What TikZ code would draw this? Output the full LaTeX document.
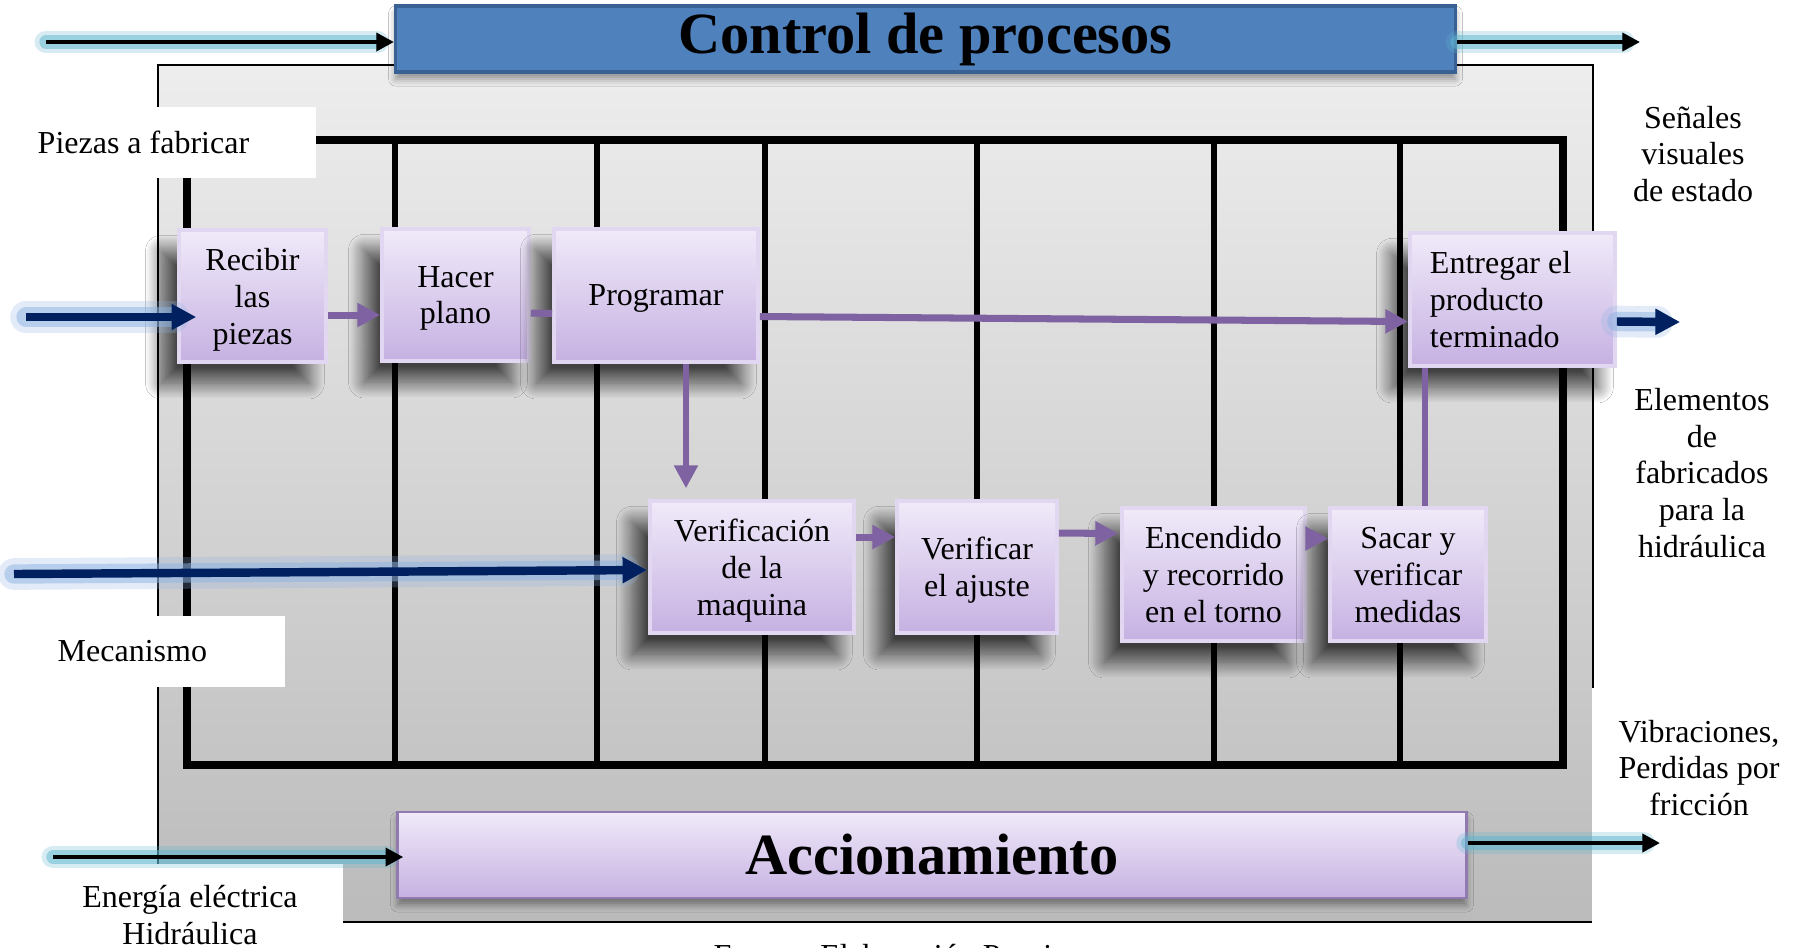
\documentclass[tikz,border=0pt]{standalone}
\usepackage{fontspec}
\setmainfont{Liberation Serif}
\usetikzlibrary{calc,arrows.meta,shadows.blur}

\definecolor{ctrlblue}{HTML}{4F81BD}
\definecolor{ctrledge}{HTML}{3A6194}
\definecolor{paneltop}{HTML}{EDEDED}
\definecolor{panelbot}{HTML}{BBBBBB}
\definecolor{boxtop}{HTML}{F0EAF9}
\definecolor{boxbot}{HTML}{C6B1E2}
\definecolor{boxedge}{HTML}{E2D7F1}
\definecolor{flow}{HTML}{7E62A1}
\definecolor{navy}{HTML}{002060}
\definecolor{glowblue}{HTML}{8DB3E2}
\definecolor{glowteal}{HTML}{5FB7CF}

\tikzset{
  txt/.style={font=\fontsize{9.1}{10.5}\selectfont, inner sep=0pt},
  proc/.style={txt, align=center, text depth=0pt, top color=boxtop, bottom color=boxbot, draw=boxedge, line width=1pt,
    blur shadow={shadow xshift=-5pt, shadow yshift=-6pt, shadow blur radius=4.5pt, shadow blur steps=30, shadow opacity=70}},
  bigbar/.style={font=\fontsize{16.6}{19}\selectfont\bfseries, inner sep=0pt},
  whitebox/.style={fill=white, inner sep=0pt},
  panel/.style={draw=black, line width=.5pt, top color=paneltop, bottom color=panelbot},
  laneline/.style={line width=1.7pt},
  flowline/.style={draw=flow, line width=2pt},
  flowarrow/.style={flowline, -{Triangle[length=6.5pt,width=6.5pt]}},
  navyarrow/.style={draw=navy, line width=2.4pt, -{Triangle[length=7pt,width=7pt]},
    preaction={draw=glowblue, line width=9pt, opacity=.25, line cap=round},
    preaction={draw=glowblue, line width=5.5pt, opacity=.5, line cap=round}},
  blackarrow/.style={draw=black, line width=1.4pt, -{Triangle[length=5pt,width=5pt]},
    preaction={draw=glowteal, line width=6.5pt, opacity=.25, line cap=round},
    preaction={draw=glowteal, line width=3.8pt, opacity=.5, line cap=round}}
}

\begin{document}
\begin{tikzpicture}[x=0.01cm,y=-0.01cm]
\useasboundingbox[fill=white] (0,0) rectangle (1796,947);
\draw[panel] (158,65) rectangle (1593,922);
\draw[laneline,line width=2.2pt] (187,140) rectangle (1563,765);
\foreach \x in {395,597,765,977,1214,1400}
  \draw[laneline] (\x,140) -- (\x,765);

\node[txt,whitebox,anchor=west,text width=2.41cm,align=flush left,inner xsep=.37cm,minimum height=.71cm] (piezas) at (0,142.5) {Piezas a fabricar};
\node[txt,whitebox,anchor=west,text width=1.70cm,align=flush left,inner xsep=.57cm,minimum height=.71cm] (mecanismo) at (0,651.5) {Mecanismo};
\node[whitebox,anchor=north west,minimum width=3.42cm,minimum height=.9cm] (energiabox) at (0,863) {};
\node[txt,align=center] (energia) at (190,915) {Energía eléctrica\\Hidráulica};
\node[whitebox,anchor=north west,minimum width=2.04cm,minimum height=2.6cm] (vibbox) at (1591,687) {};
\node[txt,align=center] (vibraciones) at (1699,768) {Vibraciones,\\Perdidas por\\fricción};
\node[txt,align=center] (senales) at (1693,154) {Señales\\visuales\\de estado};
\node[txt,align=center] (elementos) at (1702,473) {Elementos\\de\\fabricados\\para la\\hidráulica};

\node[bigbar,fill=ctrlblue,draw=ctrledge,line width=1pt,minimum width=10.59cm,minimum height=.66cm,
  blur shadow={shadow xshift=0pt, shadow yshift=-2pt, shadow blur radius=2pt, shadow opacity=40}] (control) at (925.5,39) {Control de procesos};

\node[proc,minimum width=1.47cm,minimum height=1.32cm] (recibir) at (252.5,296) {Recibir\\las\\piezas};
\node[proc,minimum width=1.47cm,minimum height=1.32cm] (hacer) at (455.5,295) {Hacer\\plano};
\node[proc,minimum width=2.04cm,minimum height=1.33cm] (programar) at (656,295.5) {Programar};
\node[proc,text depth={},minimum width=2.05cm,minimum height=1.33cm,text width=1.65cm,align=flush left] (entregar) at (1512.5,299.5) {Entregar el\\producto\\terminado};
\node[proc,minimum width=2.04cm,minimum height=1.32cm] (verificacion) at (752,567) {Verificación\\de la\\maquina};
\node[proc,minimum width=1.60cm,minimum height=1.32cm] (verificar) at (977,567) {Verificar\\el ajuste};
\node[proc,minimum width=1.83cm,minimum height=1.33cm] (encendido) at (1213.5,574.5) {Encendido\\y recorrido\\en el torno};
\node[proc,minimum width=1.56cm,minimum height=1.33cm] (sacar) at (1408,574.5) {Sacar y\\verificar\\medidas};
\node[bigbar,top color=boxtop,bottom color=boxbot,draw=flow!85,line width=.8pt,minimum width=10.68cm,minimum height=.86cm,
  blur shadow={shadow xshift=0pt, shadow yshift=-2pt, shadow blur radius=2pt, shadow opacity=40}] (accion) at (932,855) {Accionamiento};

\draw[flowarrow] ($(recibir.east)+(0,19)$) -- ($(hacer.west)+(0,20)$);
\draw[flowline] ($(hacer.east)+(0,18)$) -- ($(programar.west)+(0,18)$);
\draw[flowarrow] ($(programar.east)+(0,21)$) -- ($(entregar.west)+(0,22)$);
\draw[flowarrow,line width=1.6pt] ($(programar.south)+(30,0)$) -- ($(verificacion.north)+(-66,-11)$);
\draw[flowarrow] ($(verificacion.east)+(0,-30)$) -- ($(verificar.west)+(0,-30)$);
\draw[flowarrow] ($(verificar.east)+(0,-34)$) -- ($(encendido.west)+(-2,-41)$);
\draw[flowarrow] ($(encendido.east)+(0,-36)$) -- ($(sacar.west)+(0,-36)$);
\draw[flowline,line width=1.6pt] ($(sacar.north)+(17,0)$) -- ($(entregar.south)+(-87.5,0)$);

\coordinate (in1) at (26,317);
\coordinate (in2) at (14,574);
\coordinate (out1) at (1680,322);
\draw[navyarrow] (in1) -- ($(recibir.west)+(19,21)$);
\draw[navyarrow] (in2) -- ($(verificacion.west)+(-1,3)$);
\draw[navyarrow] ($(entregar.east)+(0,22)$) -- (out1);

\coordinate (in0) at (46,42);
\coordinate (out0) at (1640,42);
\coordinate (in3) at (53,857);
\coordinate (out3) at (1660,843);
\draw[blackarrow] (in0) -- ($(control.west)+(0,3)$);
\draw[blackarrow] ($(control.east)+(0,3)$) -- (out0);
\draw[blackarrow] (in3) -- ($(accion.west)+(7,2)$);
\draw[blackarrow] ($(accion.east)+(0,-12)$) -- (out3);

\begin{scope}
\clip (0,0) rectangle (1796,947);
\node[txt,anchor=north] (fuente) at (890,944) {Fuente: Elaboración Propia};
\end{scope}
\end{tikzpicture}
\end{document}
